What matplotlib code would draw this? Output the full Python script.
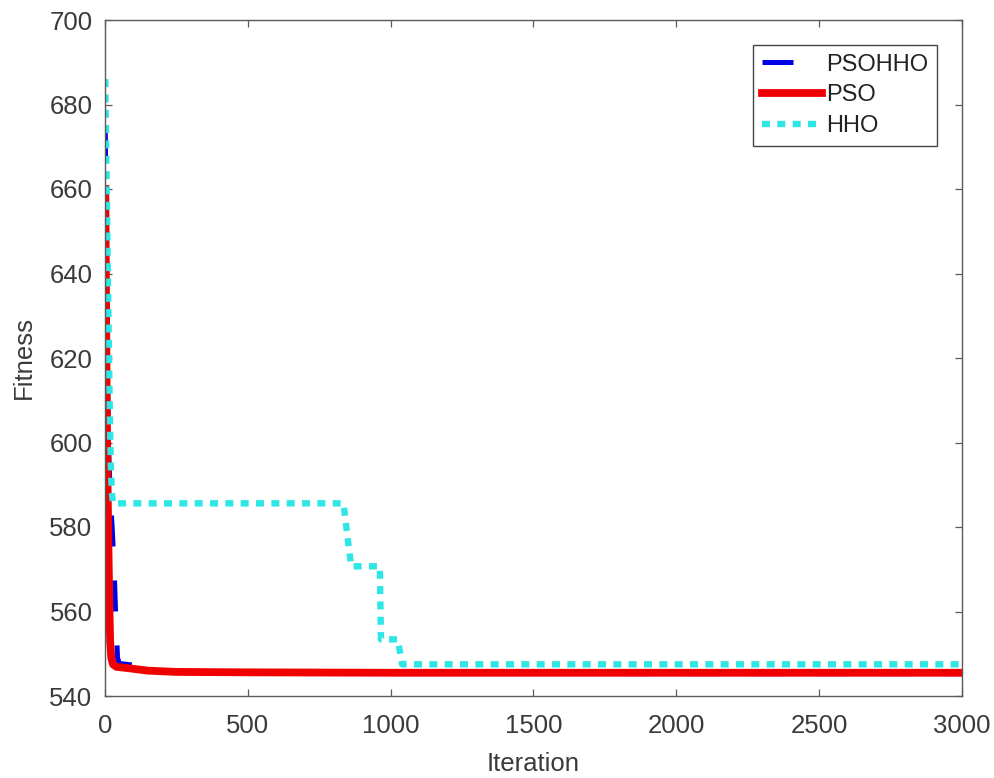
import matplotlib
matplotlib.use("Agg")
import matplotlib.pyplot as plt

plt.rcParams['font.family'] = ['Liberation Sans', 'DejaVu Sans']

# Convergence curves (iteration, best fitness) for each optimiser
psohho_iter = [1, 4, 8, 12, 18, 25, 32, 38, 44, 50, 100, 150, 250, 500, 1000, 2000, 3000]
psohho_fit = [675, 650, 620, 600, 588, 580, 570, 558, 549, 547.7, 547.3, 546.5, 545.8, 545.5, 545.4, 545.3, 545.3]

pso_iter = [1, 3, 6, 9, 12, 15, 18, 22, 28, 40, 80, 150, 250, 500, 1000, 2000, 3000]
pso_fit = [660, 640, 610, 590, 575, 562, 553, 549, 547.5, 546.9, 546.6, 546.0, 545.7, 545.6, 545.5, 545.5, 545.5]

hho_iter = [1, 5, 10, 15, 20, 24, 28, 835, 850, 862, 962, 966, 1025, 1040, 3000]
hho_fit = [686, 665, 640, 615, 595, 588, 585.6, 585.6, 577, 570.7, 570.7, 553.4, 553.4, 547.5, 547.5]

labels = ['PSOHHO', 'PSO', 'HHO']
x_ticks = [0, 500, 1000, 1500, 2000, 2500, 3000]
y_ticks = [540, 560, 580, 600, 620, 640, 660, 680, 700]

fig = plt.figure(figsize=(9.95, 7.78), dpi=100)
ax = fig.add_axes([105 / 995, 1 - 696 / 778, (962 - 105) / 995, (696 - 20) / 778])

ax.plot(psohho_iter, psohho_fit, color='#0000e6', lw=3.6, ls=(0, (6.2, 6.8)),
        dash_capstyle='butt', label=labels[0])
ax.plot(pso_iter, pso_fit, color='#f00000', lw=5.6, ls='-',
        solid_joinstyle='round', label=labels[1])
ax.plot(hho_iter, hho_fit, color='#2ee6e6', lw=4.6, ls=(0, (1.25, 1.15)),
        dash_capstyle='butt', label=labels[2])

ax.set_xlim(0, 3000)
ax.set_ylim(540, 700)
ax.set_xticks(x_ticks)
ax.set_yticks(y_ticks)

text_color = '#3a3a3a'
for s in ax.spines.values():
    s.set_color('#5a5a5a')
    s.set_linewidth(1.0)
ax.tick_params(direction='in', length=5, width=0.9, color='#5a5a5a',
               top=True, right=True, labelsize=18.5, labelcolor=text_color, pad=9)
ax.tick_params(axis='x', pad=13)

ax.set_xlabel('Iteration', fontsize=18.5, color=text_color, labelpad=10)
ax.set_ylabel('Fitness', fontsize=18.5, color=text_color, labelpad=10)

leg = ax.legend(loc='upper right', bbox_to_anchor=(937 / 995, 1 - 45 / 778),
                bbox_transform=fig.transFigure, fontsize=17, frameon=True,
                fancybox=False, edgecolor='#444444', framealpha=1,
                handlelength=2.55, handletextpad=0.17, labelspacing=0.37,
                borderpad=0.37, borderaxespad=0)
leg.get_frame().set_linewidth(1.0)
for t in leg.get_texts():
    t.set_color('#222222')

fig.savefig('out.png', dpi=100)
